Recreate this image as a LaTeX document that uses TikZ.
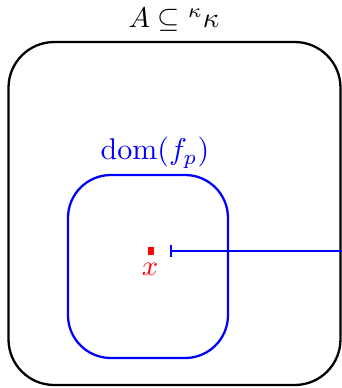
\documentclass[tikz,border=0pt]{standalone}
\usetikzlibrary{arrows.meta}
\begin{document}
\begin{tikzpicture}[x=0.35pt,y=-0.35pt,
  outerbox/.style={draw=black,line width=0.8pt,rounded corners=16pt,minimum width=332*0.35pt,minimum height=343*0.35pt,inner sep=0pt},
  innerbox/.style={draw=blue,line width=0.8pt,rounded corners=15pt,minimum width=160*0.35pt,minimum height=183*0.35pt,inner sep=0pt},
  pt/.style={fill=red,inner sep=0pt,minimum width=2.2pt,minimum height=2.6pt},
  conn/.style={draw=blue,line width=0.8pt,{Bar[width=4.5pt,line width=0.8pt]}-}]
\useasboundingbox (0,0) rectangle (342,388);
\node[outerbox] (A) at (174.5,213.5) {};
\node[innerbox] (D) at (148,266.5) {};
\node (tA) at (174,20) {$A\subseteq{}^\kappa\kappa$};
\node[text=blue,scale=1.05] (tD) at (155,153) {$\mathrm{dom}(f_p)$};
\node[pt] (x) at (151,251) {};
\node[text=red,anchor=north,inner sep=1pt] (tx) at (150,260) {$x$};
\coordinate (s) at (170,251);
\draw[conn] (s) -- (s -| A.east);
\end{tikzpicture}
\end{document}
